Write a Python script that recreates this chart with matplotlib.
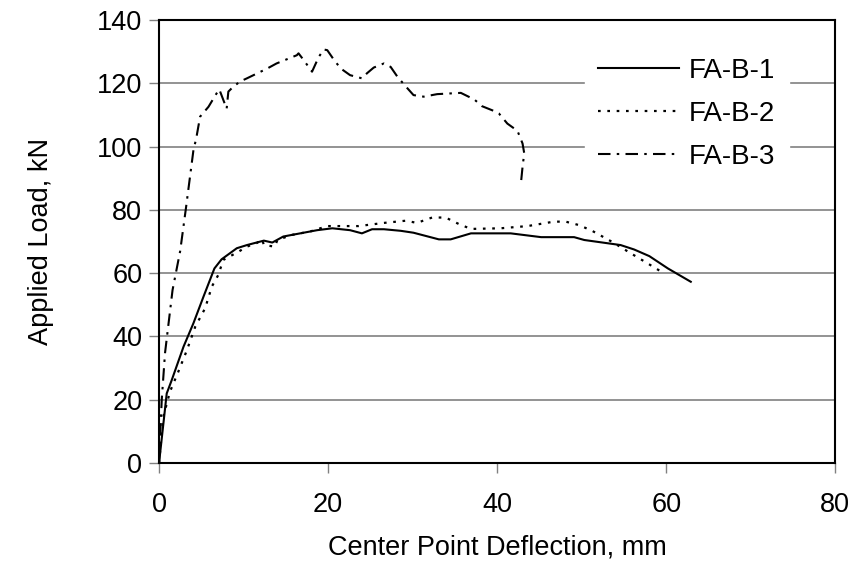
import matplotlib
matplotlib.use("Agg")
import matplotlib.pyplot as plt

plt.rcParams['font.family'] = ['Liberation Sans', 'DejaVu Sans']

# FA-B-1 (solid)
x1 = [0, 0.91, 1.5, 2.9, 4.07, 5.26, 6.55, 7.4, 9.2, 10.4, 12.4, 13.4, 14.7, 16.7, 18.7,
      20.5, 22.6, 24.0, 25.2, 26.6, 28.6, 30.1, 33.1, 34.5, 36.9, 41.6, 45.2, 49.1, 50.3,
      54.6, 56.2, 58.0, 60.2, 62.9]
y1 = [0, 22, 26.2, 36.8, 44.2, 52.6, 61.5, 64.4, 67.9, 68.9, 70.3, 69.7, 71.6, 72.6, 73.6,
      74.2, 73.6, 72.6, 73.9, 73.9, 73.4, 72.8, 70.7, 70.7, 72.6, 72.6, 71.4, 71.4, 70.5,
      68.9, 67.5, 65.4, 61.5, 57.3]

# FA-B-2 (dotted)
x2 = [0, 0.51, 1.3, 2.3, 3.3, 4.3, 5.45, 6.25, 7.0, 7.6, 9.4, 10.4, 11.6, 12.2, 12.4,
      13.7, 14.0, 15.7, 17.9, 19.9, 23.6, 26.6, 29.2, 30.5, 32.3, 33.9, 35.5, 36.9, 40.4,
      43.6, 46.7, 48.1, 49.7, 51.3, 53.6, 55.8, 57.8, 59.4]
y2 = [0, 14.7, 22.6, 29, 35.7, 43.2, 48.9, 55.8, 59.4, 64.2, 66.8, 68.4, 69.6, 70.7, 68.9,
      68.4, 70.5, 72.1, 73.2, 74.9, 74.9, 75.9, 76.6, 75.9, 77.6, 77.6, 75.5, 74.0, 74.2,
      74.9, 76.3, 76.3, 75.2, 73.3, 69.9, 66.3, 63.1, 60.5]

# FA-B-3 (dash-dot)
x3 = [0, 0.32, 0.71, 1.6, 2.5, 3.2, 4.07, 4.4, 4.86, 5.85, 6.8, 7.13, 8.0, 8.2, 8.8, 9.6,
      10.4, 12.8, 13.9, 16.3, 16.5, 17.1, 18.1, 18.9, 19.5, 19.9, 20.7, 21.5, 22.6, 24.0,
      24.6, 25.4, 26.6, 27.4, 28.2, 29.2, 30.1, 31.3, 32.9, 35.7, 37.3, 38.2, 39.6, 40.2,
      41.2, 42.4, 43.0, 43.2, 43.0, 42.8]
y3 = [0, 20, 34.8, 54.7, 67, 80.9, 98.9, 102.6, 109.5, 112.6, 116.8, 118.1, 112, 117.4,
      119, 120.6, 121.6, 124.7, 126.3, 128.9, 129.5, 127.4, 123.7, 128.4, 130.7, 130.5,
      127.4, 124.7, 122.6, 121.6, 123.2, 125.0, 126.3, 125.2, 122.1, 119, 116.3, 115.8,
      116.6, 117.0, 114.9, 112.8, 111.3, 110.5, 107.3, 105, 101, 97.9, 93.6, 88.2]

labels = ['FA-B-1', 'FA-B-2', 'FA-B-3']
x_ticks = [0, 20, 40, 60, 80]
y_ticks = [0, 20, 40, 60, 80, 100, 120, 140]

fig = plt.figure(figsize=(8.55, 5.81), dpi=100)
ax = fig.add_axes([0.186, 0.203, 0.791, 0.7624])

ax.plot(x1, y1, color='black', lw=1.5, linestyle='-', label=labels[0])
ax.plot(x2, y2, color='black', lw=1.6, linestyle=(0, (1.2, 3.0)), label=labels[1])
ax.plot(x3, y3, color='black', lw=1.5, linestyle=(0, (6, 3, 1.2, 3)), label=labels[2])

ax.set_xlim(0, 80)
ax.set_ylim(0, 140)
ax.set_xticks(x_ticks)
ax.set_yticks(y_ticks)
ax.yaxis.grid(True, color='#808080', lw=1.2)
ax.set_axisbelow(True)
for s in ax.spines.values():
    s.set_linewidth(1.5)
    s.set_color('black')
ax.tick_params(direction='out', length=7, width=1, colors='#808080', labelcolor='black',
               labelsize=19.5, pad=5)
ax.tick_params(axis='x', pad=14)

ax.set_xlabel('Center Point Deflection, mm', fontsize=19.5, labelpad=12)
ax.set_ylabel('Applied Load, kN', fontsize=19.5, labelpad=31)

leg = ax.legend(loc='upper right', bbox_to_anchor=(0.952, 0.978), frameon=True,
                fontsize=20, handlelength=2.9, handletextpad=0.35, labelspacing=0.62,
                borderpad=0.5, fancybox=False)
leg.get_frame().set_facecolor('white')
leg.get_frame().set_edgecolor('white')
leg.get_frame().set_alpha(1)

fig.savefig('out.png', dpi=100)
